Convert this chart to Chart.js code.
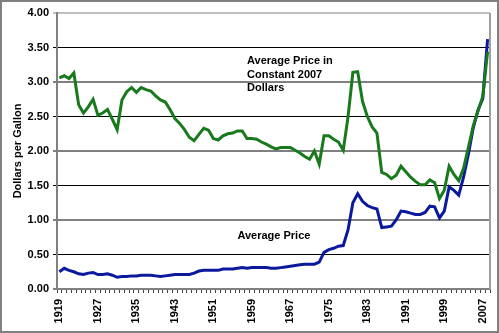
<!DOCTYPE html>
<html>
<head>
<meta charset="utf-8">
<script src="https://cdn.jsdelivr.net/npm/chart.js@4.4.0/dist/chart.umd.min.js"></script>
<style>
  html, body { margin: 0; padding: 0; background: #fff; }
  canvas { display: block; }
</style>
</head>
<body>
<canvas id="gasChart" width="499" height="333"></canvas>
<script>
// yearly series, 1919 - 2008
const firstYear = 1919;
const lastYear = 2008;
const years = [];
for (let y = firstYear; y <= lastYear; y++) years.push(String(y));

// price in constant 2007 dollars
const realPrice = [
  3.06, 3.09, 3.05, 3.13, 2.67, 2.55, 2.64, 2.75, 2.52, 2.55,
  2.60, 2.46, 2.31, 2.74, 2.86, 2.92, 2.85, 2.92, 2.89, 2.87,
  2.80, 2.74, 2.71, 2.60, 2.47, 2.40, 2.31, 2.20, 2.15, 2.24,
  2.33, 2.30, 2.18, 2.16, 2.22, 2.25, 2.26, 2.29, 2.29, 2.18,
  2.18, 2.17, 2.13, 2.10, 2.06, 2.03, 2.05, 2.05, 2.05, 2.01,
  1.97, 1.92, 1.88, 2.00, 1.81, 2.22, 2.22, 2.17, 2.13, 2.01,
  2.50, 3.14, 3.15, 2.72, 2.50, 2.35, 2.26, 1.69, 1.66, 1.60,
  1.65, 1.78, 1.70, 1.62, 1.56, 1.51, 1.51, 1.58, 1.54, 1.31,
  1.43, 1.78, 1.66, 1.57, 1.75, 2.05, 2.36, 2.58, 2.79, 3.44
];

// nominal average price
const avgPrice = [
  0.25, 0.30, 0.27, 0.25, 0.22, 0.21, 0.23, 0.24, 0.21, 0.21,
  0.22, 0.20, 0.17, 0.18, 0.18, 0.19, 0.19, 0.20, 0.20, 0.20,
  0.19, 0.18, 0.19, 0.20, 0.21, 0.21, 0.21, 0.21, 0.23, 0.26,
  0.27, 0.27, 0.27, 0.27, 0.29, 0.29, 0.29, 0.30, 0.31, 0.30,
  0.31, 0.31, 0.31, 0.31, 0.30, 0.30, 0.31, 0.32, 0.33, 0.34,
  0.35, 0.36, 0.36, 0.36, 0.39, 0.53, 0.57, 0.59, 0.62, 0.63,
  0.86, 1.25, 1.38, 1.27, 1.21, 1.18, 1.16, 0.89, 0.90, 0.91,
  1.00, 1.13, 1.12, 1.10, 1.08, 1.08, 1.11, 1.20, 1.19, 1.03,
  1.13, 1.48, 1.43, 1.36, 1.62, 1.95, 2.33, 2.59, 2.76, 3.62
];

const yTicks = [0, 0.5, 1, 1.5, 2, 2.5, 3, 3.5, 4];
const labelEvery = 8;

const FONT = "'Liberation Sans', Arial, sans-serif";

// text placed next to the lines
const notes = [
  { lines: ['Average Price in', 'Constant 2007', 'Dollars'], year: '1958', value: 3.30 },
  { lines: ['Average Price'], year: '1956', value: 0.77 }
];

const framePlugin = {
  id: 'frame',
  afterDraw(chart) {
    const ctx = chart.ctx;
    const area = chart.chartArea;
    const xs = chart.scales.x, ys = chart.scales.y;
    ctx.save();
    // right edge of plot area
    ctx.strokeStyle = '#a0a0a0';
    ctx.lineWidth = 2;
    ctx.beginPath();
    ctx.moveTo(area.right, area.top);
    ctx.lineTo(area.right, area.bottom);
    ctx.stroke();
    // outer border
    ctx.strokeStyle = '#808080';
    ctx.lineWidth = 2;
    ctx.strokeRect(1, 1, chart.width - 2, chart.height - 2);
    // notes
    ctx.fillStyle = '#000';
    ctx.font = 'bold 11px ' + FONT;
    ctx.textAlign = 'left';
    ctx.textBaseline = 'middle';
    notes.forEach(n => {
      const x = xs.getPixelForValue(years.indexOf(n.year));
      const y0 = ys.getPixelForValue(n.value);
      n.lines.forEach((t, i) => ctx.fillText(t, x, y0 + i * 13.5));
    });
    ctx.restore();
  }
};

new Chart(document.getElementById('gasChart'), {
  type: 'line',
  data: {
    labels: years,
    datasets: [
      {
        label: 'Average Price in Constant 2007 Dollars',
        data: realPrice,
        borderColor: '#187a1c',
        borderWidth: 3,
        pointRadius: 0,
        tension: 0,
        order: 0
      },
      {
        label: 'Average Price',
        data: avgPrice,
        borderColor: '#0b1a9c',
        borderWidth: 3,
        pointRadius: 0,
        tension: 0,
        order: 1
      }
    ]
  },
  options: {
    responsive: false,
    animation: false,
    layout: { padding: { left: 0, top: 13, right: 9, bottom: 0 } },
    plugins: {
      legend: { display: false },
      tooltip: { enabled: false }
    },
    scales: {
      x: {
        type: 'category',
        offset: true,
        afterFit(scale) {
          scale.height = 44;
          scale.paddingLeft = 0;
          scale.paddingRight = 0;
        },
        grid: {
          offset: true,
          drawOnChartArea: false,
          tickLength: 4,
          color: '#404040',
          lineWidth: 1
        },
        border: { color: '#808080', width: 2 },
        ticks: {
          autoSkip: false,
          maxRotation: 90,
          minRotation: 90,
          padding: 6,
          color: '#000',
          font: { family: FONT, size: 11, weight: 'bold' },
          callback: (v, i) => ((Number(years[i]) - firstYear) % labelEvery === 0 ? years[i] : '')
        }
      },
      y: {
        min: 0,
        max: 4,
        afterFit(scale) { scale.width = 57; },
        afterBuildTicks(scale) { scale.ticks = yTicks.map(v => ({ value: v })); },
        grid: {
          tickLength: 4,
          color: c => {
            const v = c.tick.value;
            if (v === 4) return '#c0c0c0';
            return Number.isInteger(v) ? '#808080' : '#000';
          },
          lineWidth: c => (Number.isInteger(c.tick.value) ? 2 : 1)
        },
        border: { color: '#808080', width: 2 },
        ticks: {
          padding: 4,
          color: '#000',
          font: { family: FONT, size: 11, weight: 'bold' },
          callback: v => Number(v).toFixed(2)
        },
        title: {
          display: true,
          text: 'Dollars per Gallon',
          color: '#000',
          font: { family: FONT, size: 11, weight: 'bold' },
          padding: { top: 11, bottom: 0 }
        }
      }
    }
  },
  plugins: [framePlugin]
});
</script>
</body>
</html>
